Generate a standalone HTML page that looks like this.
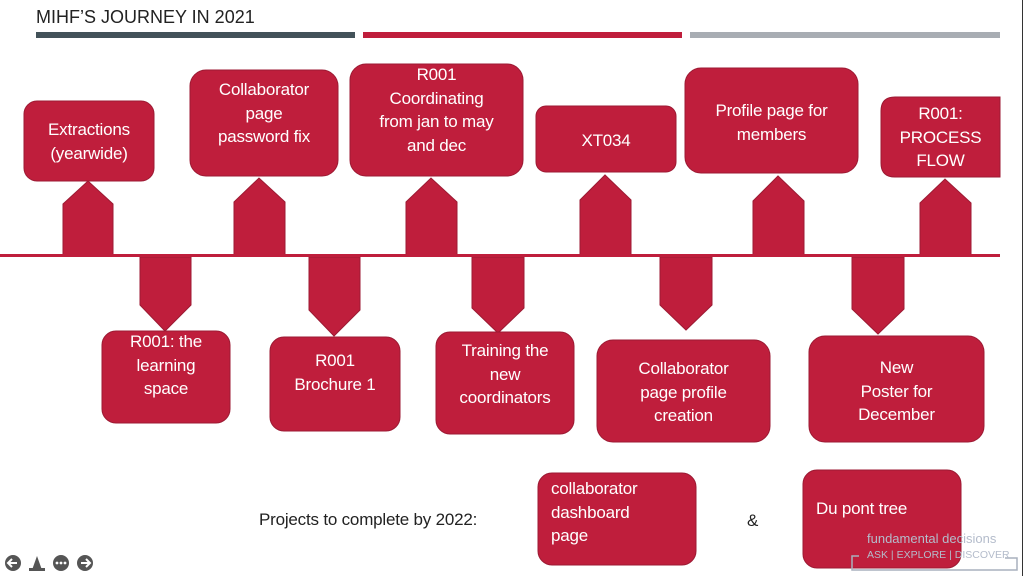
<!DOCTYPE html>
<html><head><meta charset="utf-8"><style>
html,body{margin:0;padding:0;background:#fff;}
body{width:1024px;height:576px;position:relative;overflow:hidden;font-family:"Liberation Sans",sans-serif;}
.t{position:absolute;color:#fff;font-size:17px;letter-spacing:-0.2px;line-height:23.5px;text-align:center;}
svg{position:absolute;left:0;top:0;}
</style></head><body>
<svg width="1024" height="576">
<g fill="#bf1e3c" stroke="#9c1a33" stroke-width="1">
<rect x="24" y="101" width="130" height="80" rx="13"/>
<rect x="190" y="70" width="148" height="106" rx="16"/>
<rect x="350" y="64" width="173" height="112" rx="16"/>
<rect x="536" y="106" width="140" height="66" rx="10"/>
<rect x="685" y="68" width="173" height="105" rx="16"/>
<path d="M1000 97 H895 Q881 97 881 111 V163 Q881 177 895 177 H1000 Z"/>
<path d="M63 255 V204 L88 181 L113 204 V255 Z"/>
<path d="M234 255 V202 L259 178 L285 202 V255 Z"/>
<path d="M406 255 V202 L431 178 L457 202 V255 Z"/>
<path d="M580 255 V200 L605 175 L631 200 V255 Z"/>
<path d="M753 255 V201 L778 176 L804 201 V255 Z"/>
<path d="M920 255 V203 L945 179 L971 203 V255 Z"/>
<path d="M140 257 V305 L165 331 L191 305 V257 Z"/>
<path d="M309 257 V310 L334 336 L360 310 V257 Z"/>
<path d="M472 257 V308 L498 333 L524 308 V257 Z"/>
<path d="M660 257 V305 L686 330 L712 305 V257 Z"/>
<path d="M852 257 V309 L878 334 L904 309 V257 Z"/>
<rect x="102" y="331" width="128" height="92" rx="14"/>
<rect x="270" y="337" width="130" height="94" rx="14"/>
<rect x="436" y="332" width="138" height="102" rx="14"/>
<rect x="597" y="340" width="173" height="102" rx="16"/>
<rect x="809" y="336" width="175" height="106" rx="16"/>
<rect x="538" y="473" width="158" height="92" rx="14"/>
<rect x="803" y="470" width="158" height="98" rx="14"/>
</g>
<rect x="0" y="254" width="1000" height="3" fill="#bf1e3c"/>
<rect x="36" y="32" width="319" height="6" fill="#435259"/>
<rect x="363" y="32" width="319" height="6" fill="#bf1e3c"/>
<rect x="690" y="32" width="310" height="6" fill="#a8adb3"/>
<line x1="1022.5" y1="0" x2="1022.5" y2="576" stroke="#333" stroke-width="1"/>
<path d="M859 556 H852 V570 H1017 V558 H1005" fill="none" stroke="#a8b0bd" stroke-width="1.5"/>
<g fill="#555">
<circle cx="13" cy="563" r="8"/>
<circle cx="61" cy="563" r="8"/>
<circle cx="85" cy="563" r="8"/>
<path d="M32 570 L37 556 L42 570 Z"/><rect x="29" y="568" width="16" height="3"/>
</g>
<g stroke="#fff" stroke-width="2" fill="none">
<path d="M17 563 H9 M12 559 L8 563 L12 567"/>
<path d="M81 563 H89 M86 559 L90 563 L86 567"/>
</g>
<g fill="#fff"><circle cx="57" cy="563" r="1.4"/><circle cx="61" cy="563" r="1.4"/><circle cx="65" cy="563" r="1.4"/></g>
</svg>
<div style="position:absolute;left:36px;top:7px;font-size:18px;color:#222;">MIHF’S JOURNEY IN 2021</div>

<div class="t" style="left:24px;width:130px;top:118px;">Extractions<br>(yearwide)</div>
<div class="t" style="left:190px;width:148px;top:78px;">Collaborator<br>page<br>password fix</div>
<div class="t" style="left:350px;width:173px;top:63px;">R001<br>Coordinating<br>from jan to may<br>and dec</div>
<div class="t" style="left:536px;width:140px;top:129px;">XT034</div>
<div class="t" style="left:685px;width:173px;top:99px;">Profile page for<br>members</div>
<div class="t" style="left:881px;width:119px;top:102px;">R001:<br>PROCESS<br>FLOW</div>

<div class="t" style="left:102px;width:128px;top:330px;">R001: the<br>learning<br>space</div>
<div class="t" style="left:270px;width:130px;top:349px;">R001<br>Brochure 1</div>
<div class="t" style="left:436px;width:138px;top:339px;">Training the<br>new<br>coordinators</div>
<div class="t" style="left:597px;width:173px;top:357px;">Collaborator<br>page profile<br>creation</div>
<div class="t" style="left:809px;width:175px;top:356px;">New<br>Poster for<br>December</div>

<div class="t" style="left:551px;top:477px;text-align:left;">collaborator<br>dashboard<br>page</div>
<div class="t" style="left:816px;top:497px;text-align:left;">Du pont tree</div>

<div style="position:absolute;left:259px;top:510px;font-size:17px;letter-spacing:-0.2px;color:#222;">Projects to complete by 2022:</div>
<div style="position:absolute;left:747px;top:511px;font-size:17px;color:#222;">&amp;</div>
<div style="position:absolute;left:867px;top:531px;font-size:13px;color:#b4bccb;">fundamental decisions</div>
<div style="position:absolute;left:867px;top:549px;font-size:10.5px;color:#b4bccb;">ASK | EXPLORE | DISCOVER</div>
</body></html>
